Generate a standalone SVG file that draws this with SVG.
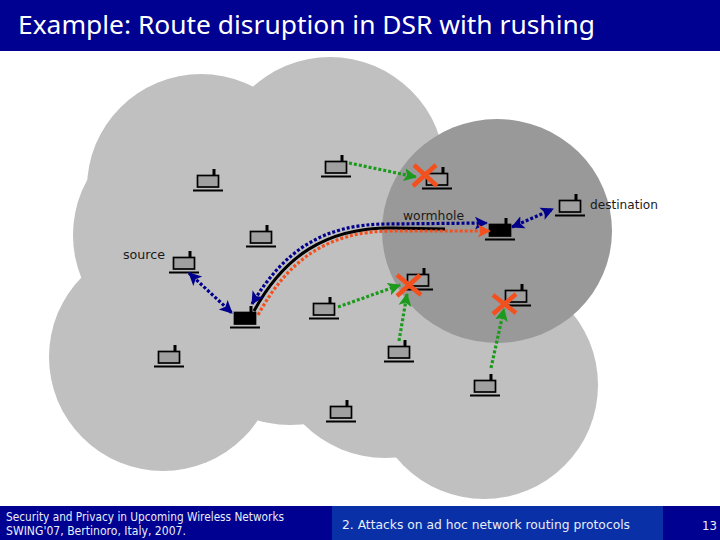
<svg xmlns="http://www.w3.org/2000/svg" width="720" height="540" viewBox="0 0 720 540">
<style>
.f{font-family:"Noto Sans","DejaVu Sans",sans-serif}
.d{font-family:"DejaVu Sans","Noto Sans",sans-serif}
.lbl{font-size:12px;fill:#1a1a1a}
.ft{font-size:11.5px;fill:#e8eef8}
.light{fill:#c0c0c0}
.c{fill:none;stroke-width:3.2;stroke-dasharray:3 2}
.blue{stroke:#00008c}.green{stroke:#1c9a1c}.red{stroke:#f4501e}
.x{stroke:#f4501e;stroke-width:4.5;fill:none}
</style>
<defs>
<marker id="ab" markerUnits="userSpaceOnUse" markerWidth="15" markerHeight="15" refX="12" refY="7.5" orient="auto-start-reverse"><path d="M0 1L13 7.5L0 14L3 7.5Z" fill="#00008c"/></marker>
<marker id="ag" markerUnits="userSpaceOnUse" markerWidth="15" markerHeight="15" refX="12" refY="7.5" orient="auto"><path d="M0 1L13 7.5L0 14L3 7.5Z" fill="#1c9a1c"/></marker>
<marker id="ar" markerUnits="userSpaceOnUse" markerWidth="15" markerHeight="15" refX="12" refY="7.5" orient="auto"><path d="M0 1L13 7.5L0 14L3 7.5Z" fill="#f4501e"/></marker>
<g id="pc"><rect x="-10.5" y="-5.5" width="21" height="11.5" fill="#a0a0a0" stroke="#000" stroke-width="1.7"/><rect x="4.5" y="-12" width="3" height="7" fill="#000"/><rect x="-15" y="8.5" width="30" height="2" fill="#000"/></g>
<g id="pcb"><rect x="-10.5" y="-5.5" width="21" height="11.5" fill="#000" stroke="#000" stroke-width="1.7"/><rect x="4.5" y="-12" width="3" height="7" fill="#000"/><rect x="-15" y="8.5" width="30" height="2" fill="#000"/></g>
</defs>
<rect width="720" height="540" fill="#fff"/>
<g id="areas">
<circle class="light" cx="201" cy="188" r="114"/>
<circle class="light" cx="330" cy="172" r="115"/>
<circle class="light" cx="187" cy="235" r="114"/>
<circle class="light" cx="163" cy="357" r="114"/>
<circle class="light" cx="290" cy="310" r="115"/>
<circle class="light" cx="385" cy="343" r="115"/>
<circle class="light" cx="484" cy="385" r="114"/>
<circle class="light" cx="400" cy="290" r="100"/>
<ellipse cx="497" cy="231" rx="115" ry="112" fill="#999"/>
</g>
<g id="title-bar"><rect width="720" height="51" fill="#000091"/><text class="f" x="18" y="34" font-size="25" fill="#fff" textLength="577" lengthAdjust="spacingAndGlyphs">Example: Route disruption in DSR with rushing</text></g>
<g id="footer">
<rect y="506" width="720" height="34" fill="#000091"/><rect x="332" y="506" width="331" height="34" fill="#0a30a8"/>
<text class="d ft" x="6" y="521" textLength="278" lengthAdjust="spacingAndGlyphs">Security and Privacy in Upcoming Wireless Networks</text>
<text class="d ft" x="6" y="535" textLength="180" lengthAdjust="spacingAndGlyphs">SWING'07, Bertinoro, Italy, 2007.</text>
<text class="d ft" x="342" y="529" font-size="13" textLength="288" lengthAdjust="spacingAndGlyphs">2. Attacks on ad hoc network routing protocols</text>
<text class="d ft" x="702" y="530" textLength="15" lengthAdjust="spacingAndGlyphs">13</text>
</g>
<g id="node-1"><use href="#pc" x="208" y="181"/></g>
<g id="node-2"><use href="#pc" x="336" y="167"/></g>
<g id="node-3"><use href="#pc" x="261" y="237"/></g>
<g id="node-source"><use href="#pc" x="184" y="263"/><text class="d lbl" x="123" y="259" textLength="42" lengthAdjust="spacingAndGlyphs">source</text></g>
<g id="node-w1"><use href="#pcb" x="245" y="318"/></g>
<g id="node-6"><use href="#pc" x="324" y="309"/></g>
<g id="node-7"><use href="#pc" x="437" y="179"/></g>
<g id="node-destination"><use href="#pc" x="570" y="206"/><text class="d lbl" x="590" y="209" textLength="68" lengthAdjust="spacingAndGlyphs">destination</text></g>
<g id="node-w2"><use href="#pcb" x="500" y="230"/></g>
<g id="node-10"><use href="#pc" x="418" y="280"/></g>
<g id="node-11"><use href="#pc" x="516" y="296"/></g>
<g id="node-12"><use href="#pc" x="399" y="352"/></g>
<g id="node-13"><use href="#pc" x="485" y="386"/></g>
<g id="node-14"><use href="#pc" x="169" y="357"/></g>
<g id="node-15"><use href="#pc" x="341" y="412"/></g>
<g id="connectors">
<path d="M254 311C284 256 326 228 390 228L445 229" fill="none" stroke="#000" stroke-width="3"/>
<path class="c blue" d="M252 304C283 252 322 224 387 224L487 223" marker-start="url(#ab)" marker-end="url(#ab)"/>
<path class="c red" d="M258 315C288 260 328 231 392 231L490 231" marker-end="url(#ar)"/>
<path class="c blue" d="M189 273L232 313" marker-start="url(#ab)" marker-end="url(#ab)"/>
<path class="c blue" d="M512 227L553 209" marker-start="url(#ab)" marker-end="url(#ab)"/>
<path class="c green" d="M349 163L416 177" marker-end="url(#ag)"/>
<path class="c green" d="M338 307L400 285" marker-end="url(#ag)"/>
<path class="c green" d="M399 341L407 294" marker-end="url(#ag)"/>
<path class="c green" d="M491 368L504 309" marker-end="url(#ag)"/>
</g>
<g id="crosses">
<path class="x" d="M413 186L436 165M414 165L437 186"/>
<path class="x" d="M397 296L420 275M397 275L421 295"/>
<path class="x" d="M493 314L516 294M493 295L516 313"/>
</g>
<text class="d lbl" x="403" y="220" textLength="61" lengthAdjust="spacingAndGlyphs">wormhole</text>
</svg>
